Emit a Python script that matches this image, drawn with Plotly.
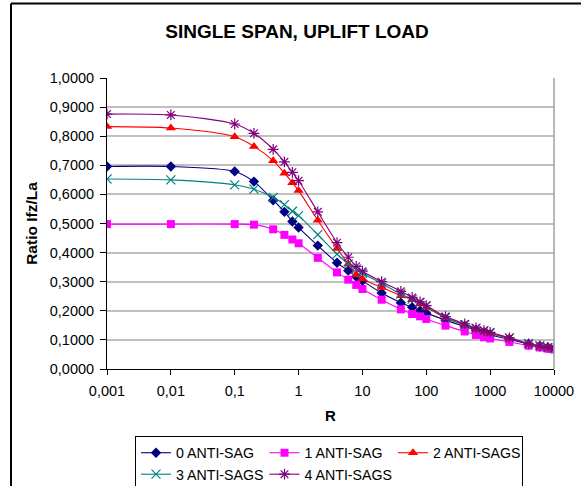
import plotly.graph_objects as go

R = [0.001, 0.01, 0.1, 0.2, 0.4, 0.6, 0.8, 1, 2, 4, 6, 8, 10, 20, 40, 60, 80, 100,
     200, 400, 600, 800, 1000, 2000, 4000, 6000, 8000, 10000]

anti_sag_0 = [0.696, 0.696, 0.679, 0.644, 0.580, 0.540, 0.507, 0.486, 0.424, 0.365, 0.338, 0.317,
              0.303, 0.261, 0.228, 0.212, 0.200, 0.192, 0.168, 0.146, 0.134, 0.125, 0.118, 0.102,
              0.086, 0.079, 0.074, 0.070]
anti_sag_1 = [0.498, 0.498, 0.498, 0.496, 0.480, 0.461, 0.445, 0.432, 0.382, 0.332, 0.307, 0.289,
              0.275, 0.238, 0.205, 0.189, 0.181, 0.172, 0.149, 0.129, 0.117, 0.109, 0.105, 0.093,
              0.080, 0.074, 0.070, 0.067]
anti_sags_2 = [0.833, 0.828, 0.798, 0.765, 0.716, 0.673, 0.640, 0.613, 0.511, 0.414, 0.361, 0.324,
               0.309, 0.280, 0.252, 0.238, 0.223, 0.212, 0.175, 0.151, 0.137, 0.129, 0.122, 0.106,
               0.086, 0.078, 0.074, 0.070]
anti_sags_3 = [0.653, 0.650, 0.633, 0.618, 0.590, 0.565, 0.542, 0.527, 0.462, 0.395, 0.361, 0.344,
               0.329, 0.294, 0.258, 0.240, 0.229, 0.218, 0.177, 0.152, 0.140, 0.132, 0.124, 0.107,
               0.088, 0.080, 0.074, 0.071]
anti_sags_4 = [0.876, 0.873, 0.842, 0.810, 0.755, 0.712, 0.676, 0.647, 0.540, 0.434, 0.384, 0.353,
               0.336, 0.300, 0.267, 0.246, 0.231, 0.218, 0.180, 0.155, 0.141, 0.132, 0.126, 0.107,
               0.086, 0.079, 0.074, 0.071]

series_names = ["0 ANTI-SAG", "1 ANTI-SAG", "2 ANTI-SAGS", "3 ANTI-SAGS", "4 ANTI-SAGS"]
x_tick_vals = [0.001, 0.01, 0.1, 1, 10, 100, 1000, 10000]
x_tick_text = ["0,001", "0,01", "0,1", "1", "10", "100", "1000", "10000"]

FONT = "Liberation Sans, Arial, sans-serif"

styles = [
    dict(color="#000080", symbol="diamond", size=8, lw=0),
    dict(color="#FF00FF", symbol="square", size=8, lw=0),
    dict(color="#FF0000", symbol="triangle-up", size=9, lw=0),
    dict(color="#008080", symbol="x-thin", size=9, lw=1.2),
    dict(color="#800080", symbol="asterisk", size=9, lw=1.2),
]
data = [anti_sag_0, anti_sag_1, anti_sags_2, anti_sags_3, anti_sags_4]

fig = go.Figure()
for name, ys, st in zip(series_names, data, styles):
    fig.add_trace(go.Scatter(
        x=R, y=ys, name=name, mode="lines+markers",
        line=dict(color=st["color"], width=1.1, shape="spline", smoothing=0.8),
        marker=dict(symbol=st["symbol"], size=st["size"], color=st["color"],
                    line=dict(color=st["color"], width=st["lw"])),
    ))

L, Rm, T, B = 107, 27, 78, 117
W, H = 581, 486
pw, ph = W - L - Rm, H - T - B

def px_x(x):
    return (x - L) / pw

def px_y(y):
    return (H - B - y) / ph

shapes = [
    dict(type="line", xref="x domain", yref="y domain", x0=1, x1=1, y0=0, y1=1,
         line=dict(color="#a0a0a0", width=1.5)),
    dict(type="line", xref="paper", yref="paper", x0=px_x(11), x1=px_x(11),
         y0=px_y(495), y1=px_y(3.5), line=dict(color="#000000", width=2)),
    dict(type="line", xref="paper", yref="paper", x0=px_x(11), x1=px_x(590),
         y0=px_y(3.5), y1=px_y(3.5), line=dict(color="#000000", width=2)),
]

fig.update_layout(
    width=W, height=H,
    margin=dict(l=L, r=Rm, t=T, b=B, autoexpand=False),
    paper_bgcolor="white", plot_bgcolor="white",
    separators=",.",
    font=dict(family=FONT, size=14, color="black"),
    title=dict(text="<b>SINGLE SPAN, UPLIFT LOAD</b>", x=297 / W, xanchor="center",
               y=1 - 31.7 / H, yanchor="middle", yref="container",
               font=dict(family=FONT, size=19, color="black")),
    xaxis=dict(type="log", range=[-3, 4], tickvals=x_tick_vals, ticktext=x_tick_text,
               showgrid=False, showline=True, linecolor="black", linewidth=1,
               ticks="outside", ticklen=5, tickcolor="black", zeroline=False, automargin=False,
               ticklabelstandoff=4,
               title=dict(text="<b>R</b>", font=dict(family=FONT, size=15), standoff=12),
               tickfont=dict(family=FONT, size=14.5)),
    yaxis=dict(range=[0, 1.0], dtick=0.1, tick0=0, tickformat=".4f",
               showgrid=True, gridcolor="#c0c0c0", gridwidth=1.5,
               showline=True, linecolor="black", linewidth=1, zeroline=False, automargin=False,
               ticks="outside", ticklen=6, tickcolor="black", ticklabelstandoff=3,
               title=dict(text="<b>Ratio Ifz/La</b>", font=dict(family=FONT, size=15.5), standoff=8),
               tickfont=dict(family=FONT, size=14.5)),
    legend=dict(orientation="h", x=px_x(135), y=px_y(436), xanchor="left", yanchor="top",
                bordercolor="#000000", borderwidth=1, bgcolor="white",
                entrywidth=83.5, entrywidthmode="pixels",
                font=dict(family=FONT, size=14.2), itemwidth=30),
    shapes=shapes,
    showlegend=True,
)

fig.write_html("out.html", config={"displayModeBar": False},
               post_script="document.body.style.margin='0';")
